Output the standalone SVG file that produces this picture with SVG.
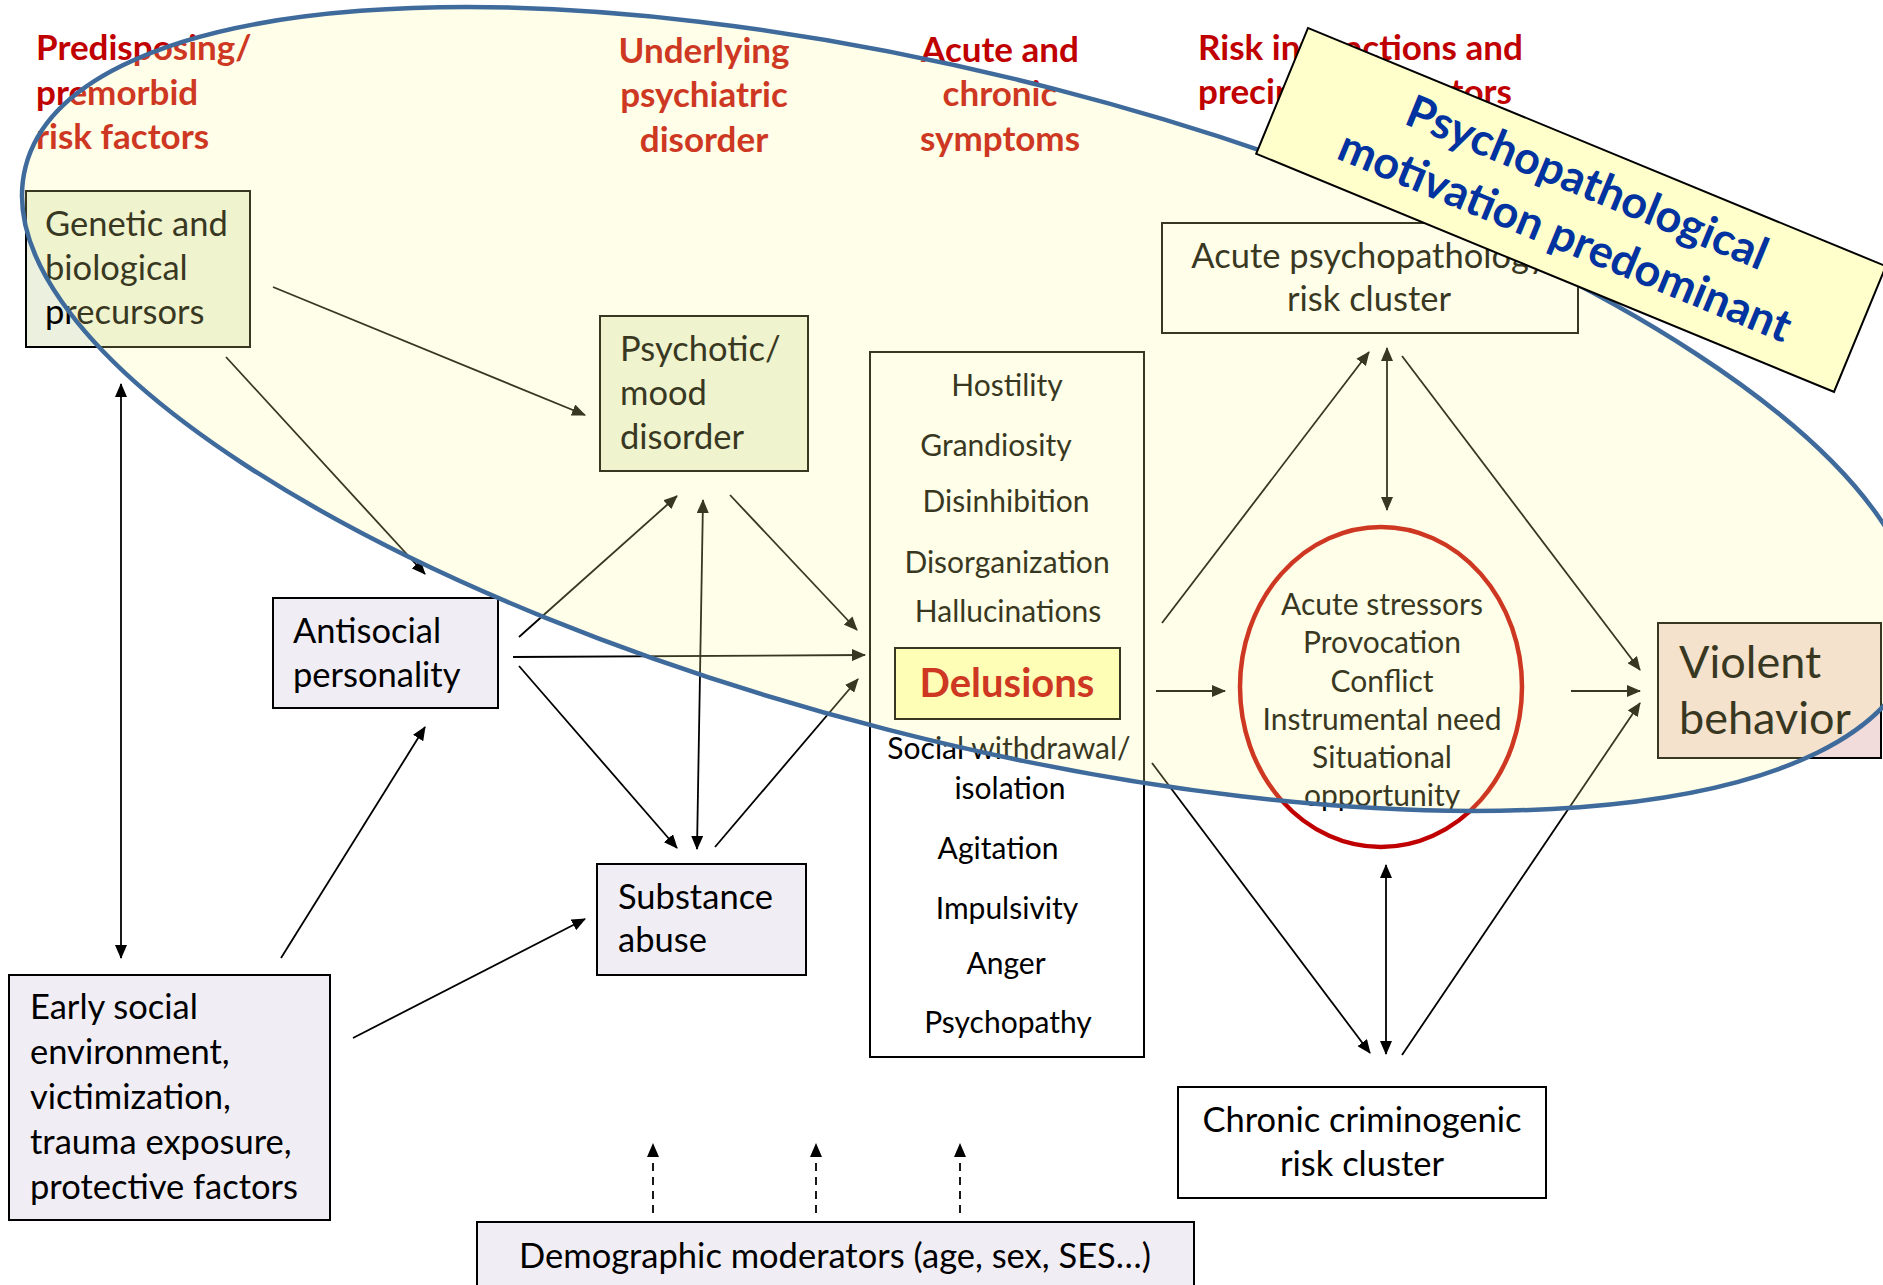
<svg xmlns="http://www.w3.org/2000/svg" width="1883" height="1285" viewBox="0 0 1883 1285">
<style>
.hdr{font-family:Lato,"Open Sans",sans-serif;font-weight:bold;font-size:35px;fill:#C00000}
.t{font-family:Lato,"Open Sans",sans-serif;font-size:34.5px;fill:#000}
.s{font-family:Lato,"Open Sans",sans-serif;font-size:30px;fill:#000;text-anchor:middle}
.c{text-anchor:middle}
.box{stroke:#000;stroke-width:2}
.ln{stroke:#000;stroke-width:1.8;fill:none}
.dash{stroke:#000;stroke-width:1.8;fill:none;stroke-dasharray:8 6}
.lbl{font-family:Lato,"Open Sans",sans-serif;font-weight:bold;font-size:45px;fill:#0033A0;text-anchor:middle}
</style>
<defs>
<marker id="ah" viewBox="0 0 14 12" refX="13" refY="6" markerWidth="14" markerHeight="12" markerUnits="userSpaceOnUse" orient="auto-start-reverse">
<path d="M0,0 L14,6 L0,12 z" fill="#000"/>
</marker>
</defs>
<rect width="1883" height="1285" fill="#fff"/>

<g id="headers">
<text class="hdr" x="36" y="60">Predisposing/</text>
<text class="hdr" x="36" y="105">premorbid</text>
<text class="hdr" x="36" y="149">risk factors</text>
<text class="hdr c" x="704" y="63">Underlying</text>
<text class="hdr c" x="704" y="107">psychiatric</text>
<text class="hdr c" x="704" y="152">disorder</text>
<text class="hdr c" x="1000" y="62">Acute and</text>
<text class="hdr c" x="1000" y="106">chronic</text>
<text class="hdr c" x="1000" y="151">symptoms</text>
<text class="hdr" x="1198" y="60">Risk interactions and</text>
<text class="hdr" x="1198" y="104">precipitating factors</text>
</g>

<g id="genetic">
<rect class="box" x="26" y="191" width="224" height="156" fill="#EBF1DE"/>
<text class="t" x="45" y="236">Genetic and</text>
<text class="t" x="45" y="280">biological</text>
<text class="t" x="45" y="324">precursors</text>
</g>

<g id="psychotic">
<rect class="box" x="600" y="316" width="208" height="155" fill="#EBF1DE"/>
<text class="t" x="620" y="361">Psychotic/</text>
<text class="t" x="620" y="405">mood</text>
<text class="t" x="620" y="449">disorder</text>
</g>

<g id="antisocial">
<rect class="box" x="273" y="598" width="225" height="110" fill="#F0EEF4"/>
<text class="t" x="293" y="643">Antisocial</text>
<text class="t" x="293" y="687">personality</text>
</g>

<g id="substance">
<rect class="box" x="597" y="864" width="209" height="111" fill="#F0EEF4"/>
<text class="t" x="618" y="909">Substance</text>
<text class="t" x="618" y="952">abuse</text>
</g>

<g id="early">
<rect class="box" x="9" y="975" width="321" height="245" fill="#F0EEF4"/>
<text class="t" x="30" y="1019">Early social</text>
<text class="t" x="30" y="1064">environment,</text>
<text class="t" x="30" y="1109">victimization,</text>
<text class="t" x="30" y="1154">trauma exposure,</text>
<text class="t" x="30" y="1199">protective factors</text>
</g>

<g id="demographic">
<rect class="box" x="477" y="1222" width="717" height="80" fill="#F0EEF4"/>
<text class="t c" x="835" y="1268">Demographic moderators (age, sex, SES…)</text>
</g>

<g id="symptoms">
<rect class="box" x="870" y="352" width="274" height="705" fill="#fff"/>
<text class="s" x="1007" y="396">Hostility</text>
<text class="s" x="996" y="456">Grandiosity</text>
<text class="s" x="1006" y="512">Disinhibition</text>
<text class="s" x="1007" y="573">Disorganization</text>
<text class="s" x="1008" y="622">Hallucinations</text>
<rect class="box" x="895" y="648" width="225" height="71" fill="#FFFFBF"/>
<text class="s" x="1007" y="697" style="font-weight:bold;font-size:40px;fill:#C00000">Delusions</text>
<text class="s" x="1009" y="759">Social withdrawal/</text>
<text class="s" x="1010" y="799">isolation</text>
<text class="s" x="998" y="859">Agitation</text>
<text class="s" x="1007" y="919">Impulsivity</text>
<text class="s" x="1006" y="974">Anger</text>
<text class="s" x="1008" y="1033">Psychopathy</text>
</g>

<g id="acute-cluster">
<rect class="box" x="1162" y="223" width="416" height="110" fill="#fff"/>
<text class="t c" x="1369" y="268">Acute psychopathology</text>
<text class="t c" x="1369" y="311">risk cluster</text>
</g>

<g id="stressors">
<ellipse cx="1381" cy="687" rx="141" ry="160" fill="#fff" stroke="#C00000" stroke-width="4.5"/>
<text class="s" x="1382" y="615">Acute stressors</text>
<text class="s" x="1382" y="653">Provocation</text>
<text class="s" x="1382" y="692">Conflict</text>
<text class="s" x="1382" y="730">Instrumental need</text>
<text class="s" x="1382" y="768">Situational</text>
<text class="s" x="1382" y="806">opportunity</text>
</g>

<g id="violent">
<rect class="box" x="1658" y="623" width="223" height="135" fill="#F2DCDB"/>
<text class="t" x="1679" y="678" style="font-size:45px">Violent</text>
<text class="t" x="1679" y="734" style="font-size:45px">behavior</text>
</g>

<g id="chronic">
<rect class="box" x="1178" y="1087" width="368" height="111" fill="#fff"/>
<text class="t c" x="1362" y="1132">Chronic criminogenic</text>
<text class="t c" x="1362" y="1176">risk cluster</text>
</g>

<g id="connectors">
<line class="ln" x1="273" y1="287" x2="585" y2="415" marker-end="url(#ah)"/>
<line class="ln" x1="226" y1="357" x2="425" y2="574" marker-end="url(#ah)"/>
<line class="ln" x1="121" y1="384" x2="121" y2="958" marker-start="url(#ah)" marker-end="url(#ah)"/>
<line class="ln" x1="281" y1="958" x2="425" y2="727" marker-end="url(#ah)"/>
<line class="ln" x1="353" y1="1038" x2="585" y2="919" marker-end="url(#ah)"/>
<line class="ln" x1="519" y1="637" x2="677" y2="496" marker-end="url(#ah)"/>
<line class="ln" x1="513" y1="657" x2="865" y2="655" marker-end="url(#ah)"/>
<line class="ln" x1="519" y1="666" x2="677" y2="848" marker-end="url(#ah)"/>
<line class="ln" x1="703" y1="500" x2="697" y2="849" marker-start="url(#ah)" marker-end="url(#ah)"/>
<line class="ln" x1="730" y1="495" x2="857" y2="630" marker-end="url(#ah)"/>
<line class="ln" x1="715" y1="847" x2="858" y2="679" marker-end="url(#ah)"/>
<line class="ln" x1="1162" y1="623" x2="1369" y2="352" marker-end="url(#ah)"/>
<line class="ln" x1="1387" y1="348" x2="1387" y2="510" marker-start="url(#ah)" marker-end="url(#ah)"/>
<line class="ln" x1="1402" y1="356" x2="1640" y2="670" marker-end="url(#ah)"/>
<line class="ln" x1="1156" y1="691" x2="1225" y2="691" marker-end="url(#ah)"/>
<line class="ln" x1="1571" y1="691" x2="1640" y2="691" marker-end="url(#ah)"/>
<line class="ln" x1="1152" y1="763" x2="1370" y2="1053" marker-end="url(#ah)"/>
<line class="ln" x1="1386" y1="865" x2="1386" y2="1054" marker-start="url(#ah)" marker-end="url(#ah)"/>
<line class="ln" x1="1402" y1="1055" x2="1640" y2="703" marker-end="url(#ah)"/>
<line class="dash" x1="653" y1="1213" x2="653" y2="1144" marker-end="url(#ah)"/>
<line class="dash" x1="816" y1="1213" x2="816" y2="1144" marker-end="url(#ah)"/>
<line class="dash" x1="960" y1="1213" x2="960" y2="1144" marker-end="url(#ah)"/>
</g>

<g id="psychopathological-zone">
<ellipse cx="970" cy="409" rx="975" ry="331" transform="rotate(14.4 970 409)" fill="#FFFA96" fill-opacity="0.22" stroke="#3F6A9C" stroke-width="4.5"/>
</g>

<g id="label" transform="translate(1308,28) rotate(22.4)">
<rect x="0" y="0" width="625" height="136" fill="#FFFFCC" stroke="#000" stroke-width="2"/>
<text class="lbl" x="317" y="52">Psychopathological</text>
<text class="lbl" x="317" y="110">motivation predominant</text>
</g>
</svg>
